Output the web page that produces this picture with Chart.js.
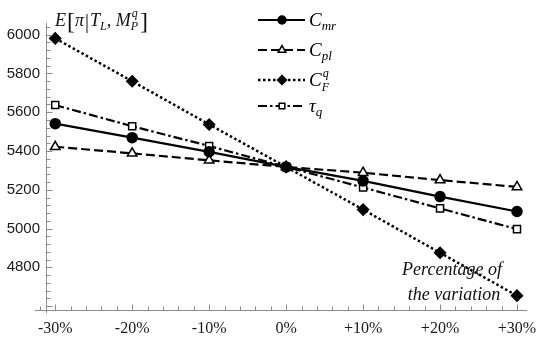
<!DOCTYPE html>
<html>
<head>
<meta charset="utf-8">
<script src="https://cdn.jsdelivr.net/npm/chart.js@4/dist/chart.umd.min.js"></script>
<style>
  html, body { margin: 0; padding: 0; background: #fff; }
  #wrap { width: 550px; height: 345px; position: relative; }
</style>
</head>
<body>
<div id="wrap"><canvas id="c" width="550" height="345"></canvas></div>
<script>
// ---- data ----
const categories = [-30, -20, -10, 0, 10, 20, 30];
const xTickLabels = ['-30%', '-20%', '-10%', '0%', '+10%', '+20%', '+30%'];
const yTicks = [4800, 5000, 5200, 5400, 5600, 5800, 6000];
const Cmr = [5541, 5469, 5396, 5318, 5246, 5165, 5088];
const Cpl = [5422, 5388, 5352, 5318, 5288, 5250, 5215];
const CFq = [5981, 5760, 5537, 5318, 5098, 4875, 4654];
const tauQ = [5637, 5528, 5426, 5318, 5212, 5104, 4997];

const toPts = arr => arr.map((v, i) => ({ x: categories[i], y: v }));

const seriesStyle = [
  { data: Cmr, dash: [], width: 2.2, style: 'circle', radius: 5, fill: '#000', legendY: 20,
    label: [{t:'C', it:true, s:19}, {t:'mr', it:true, s:13, dy:4}] },
  { data: Cpl, dash: [9, 4], width: 2.2, style: 'triangle', radius: 5.5, fill: '#fff', legendY: 50,
    label: [{t:'C', it:true, s:19}, {t:'pl', it:true, s:13, dy:4}] },
  { data: CFq, dash: [2.5, 2.5], width: 2.5, style: 'rectRot', radius: 5.5, fill: '#000', legendY: 80,
    label: [{t:'C', it:true, s:19}, {t:'F', it:true, s:12, dy:5, sup:'q'}] },
  { data: tauQ, dash: [9, 3, 2.5, 3], width: 2.2, style: 'rect', radius: 5, fill: '#fff', legendY: 106,
    label: [{t:'τ', it:true, s:19}, {t:'q', it:true, s:13, dy:4}] }
];

const SERIF = '"Liberation Serif", "DejaVu Serif", serif';

function drawParts(ctx, parts, x, base) {
  ctx.textBaseline = 'alphabetic';
  ctx.textAlign = 'left';
  for (const p of parts) {
    ctx.font = (p.it ? 'italic ' : '') + p.s + 'px ' + SERIF;
    const w = ctx.measureText(p.t).width;
    ctx.fillText(p.t, x + (p.dx || 0), base + (p.dy || 0));
    let adv = w;
    if (p.sup) {
      ctx.font = 'italic ' + p.s + 'px ' + SERIF;
      const ws = ctx.measureText(p.sup).width;
      ctx.fillText(p.sup, x + (p.dx || 0) + 1, base - 9);
      adv = Math.max(w, ws + 1);
    }
    x += adv + (p.dx || 0) + (p.gap || 0);
  }
  return x;
}

const decor = {
  id: 'decor',
  afterDraw(chart) {
    const ctx = chart.ctx;
    const xs = chart.scales.x, ys = chart.scales.y;
    const ca = chart.chartArea;
    ctx.save();
    // axes
    ctx.strokeStyle = '#8c8c8c';
    ctx.lineWidth = 1;
    ctx.setLineDash([]);
    const axY = Math.round(ca.bottom) + 0.5;
    const axX = Math.round(ca.left) + 0.5;
    ctx.beginPath();
    ctx.moveTo(ca.left - 11, axY); ctx.lineTo(ca.right, axY);
    ctx.moveTo(axX, ca.top - 2); ctx.lineTo(axX, ca.bottom + 3);
    ctx.stroke();
    // x ticks (every 2%, majors every 10%)
    ctx.beginPath();
    for (let v = -32; v <= 30; v += 2) {
      const px = Math.round(xs.getPixelForValue(v)) + 0.5;
      const len = (v % 10 === 0) ? 6 : 4;
      ctx.moveTo(px, axY); ctx.lineTo(px, axY - len);
    }
    // y ticks (every 40, majors every 200)
    for (let v = 4600; v <= 6040; v += 40) {
      const py = Math.round(ys.getPixelForValue(v)) + 0.5;
      const len = (v % 200 === 0) ? 6 : 4;
      ctx.moveTo(axX, py); ctx.lineTo(axX + len, py);
    }
    ctx.stroke();

    // legend
    ctx.fillStyle = '#000';
    ctx.strokeStyle = '#000';
    seriesStyle.forEach(s => {
      const y = s.legendY;
      ctx.lineWidth = s.width;
      ctx.setLineDash(s.dash);
      ctx.beginPath();
      ctx.moveTo(258, y); ctx.lineTo(305, y);
      ctx.stroke();
      ctx.setLineDash([]);
      ctx.lineWidth = 1.5;
      ctx.fillStyle = s.fill;
      Chart.helpers.drawPoint(ctx, { pointStyle: s.style, radius: s.radius - 1, rotation: 0, borderWidth: 1.5 }, 282, y);
      ctx.fillStyle = '#000';
      drawParts(ctx, s.label, 309, y + 6);
    });

    // y-axis title E[π|T_L, M_P^q]
    ctx.fillStyle = '#111';
    let x = 55;
    const b = 26;
    x = drawParts(ctx, [{t:'E', it:true, s:18, gap:1}], x, b);
    ctx.font = '24px ' + SERIF; ctx.fillText('[', x, b + 3); x += ctx.measureText('[').width;
    x = drawParts(ctx, [{t:'π', it:true, s:18}], x, b);
    ctx.font = '20px ' + SERIF; ctx.fillText('|', x + 1, b + 2); x += ctx.measureText('|').width + 2;
    x = drawParts(ctx, [{t:'T', it:true, s:18}, {t:'L', it:true, s:12, dy:4}, {t:', ', it:false, s:18}, {t:'M', it:true, s:18}, {t:'P', it:true, s:12, dy:4, sup:'q'}], x, b);
    ctx.font = '24px ' + SERIF; ctx.fillText(']', x + 2, b + 3);

    // annotation
    ctx.font = 'italic 18px ' + SERIF;
    ctx.textAlign = 'center';
    ctx.fillStyle = '#111';
    ctx.fillText('Percentage of', 452, 275);
    ctx.fillText('the variation', 454, 300);
    ctx.restore();
  }
};

const chart = new Chart(document.getElementById('c'), {
  type: 'line',
  data: {
    datasets: seriesStyle.map(s => ({
      data: toPts(s.data),
      borderColor: '#000',
      borderWidth: s.width,
      borderDash: s.dash,
      pointStyle: s.style,
      pointRadius: s.radius,
      pointBackgroundColor: s.fill,
      pointBorderColor: '#000',
      pointBorderWidth: 1.5,
      tension: 0,
      fill: false,
      clip: false
    }))
  },
  options: {
    responsive: false,
    animation: false,
    devicePixelRatio: 1,
    layout: { padding: { top: 25, right: 23, left: 0, bottom: 0 } },
    plugins: { legend: { display: false }, tooltip: { enabled: false } },
    scales: {
      x: {
        type: 'linear',
        min: -31.2,
        max: 31.3,
        afterBuildTicks: sc => { sc.ticks = categories.map(v => ({ value: v })); },
        afterFit: sc => { sc.height = 35; },
        grid: { display: false, drawTicks: false },
        border: { display: false },
        ticks: {
          autoSkip: false, maxRotation: 0, minRotation: 0, padding: 9,
          color: '#1a1a1a',
          font: { family: SERIF, size: 16 },
          callback: (v) => xTickLabels[categories.indexOf(v)]
        }
      },
      y: {
        type: 'linear',
        min: 4580,
        max: 6050,
        afterBuildTicks: sc => { sc.ticks = yTicks.map(v => ({ value: v })); },
        afterFit: sc => { sc.width = 46; },
        grid: { display: false, drawTicks: false },
        border: { display: false },
        ticks: {
          padding: 6,
          color: '#1a1a1a',
          font: { family: '"Liberation Sans", Arial, sans-serif', size: 15 },
          callback: v => String(v)
        }
      }
    }
  },
  plugins: [decor]
});
</script>
</body>
</html>
